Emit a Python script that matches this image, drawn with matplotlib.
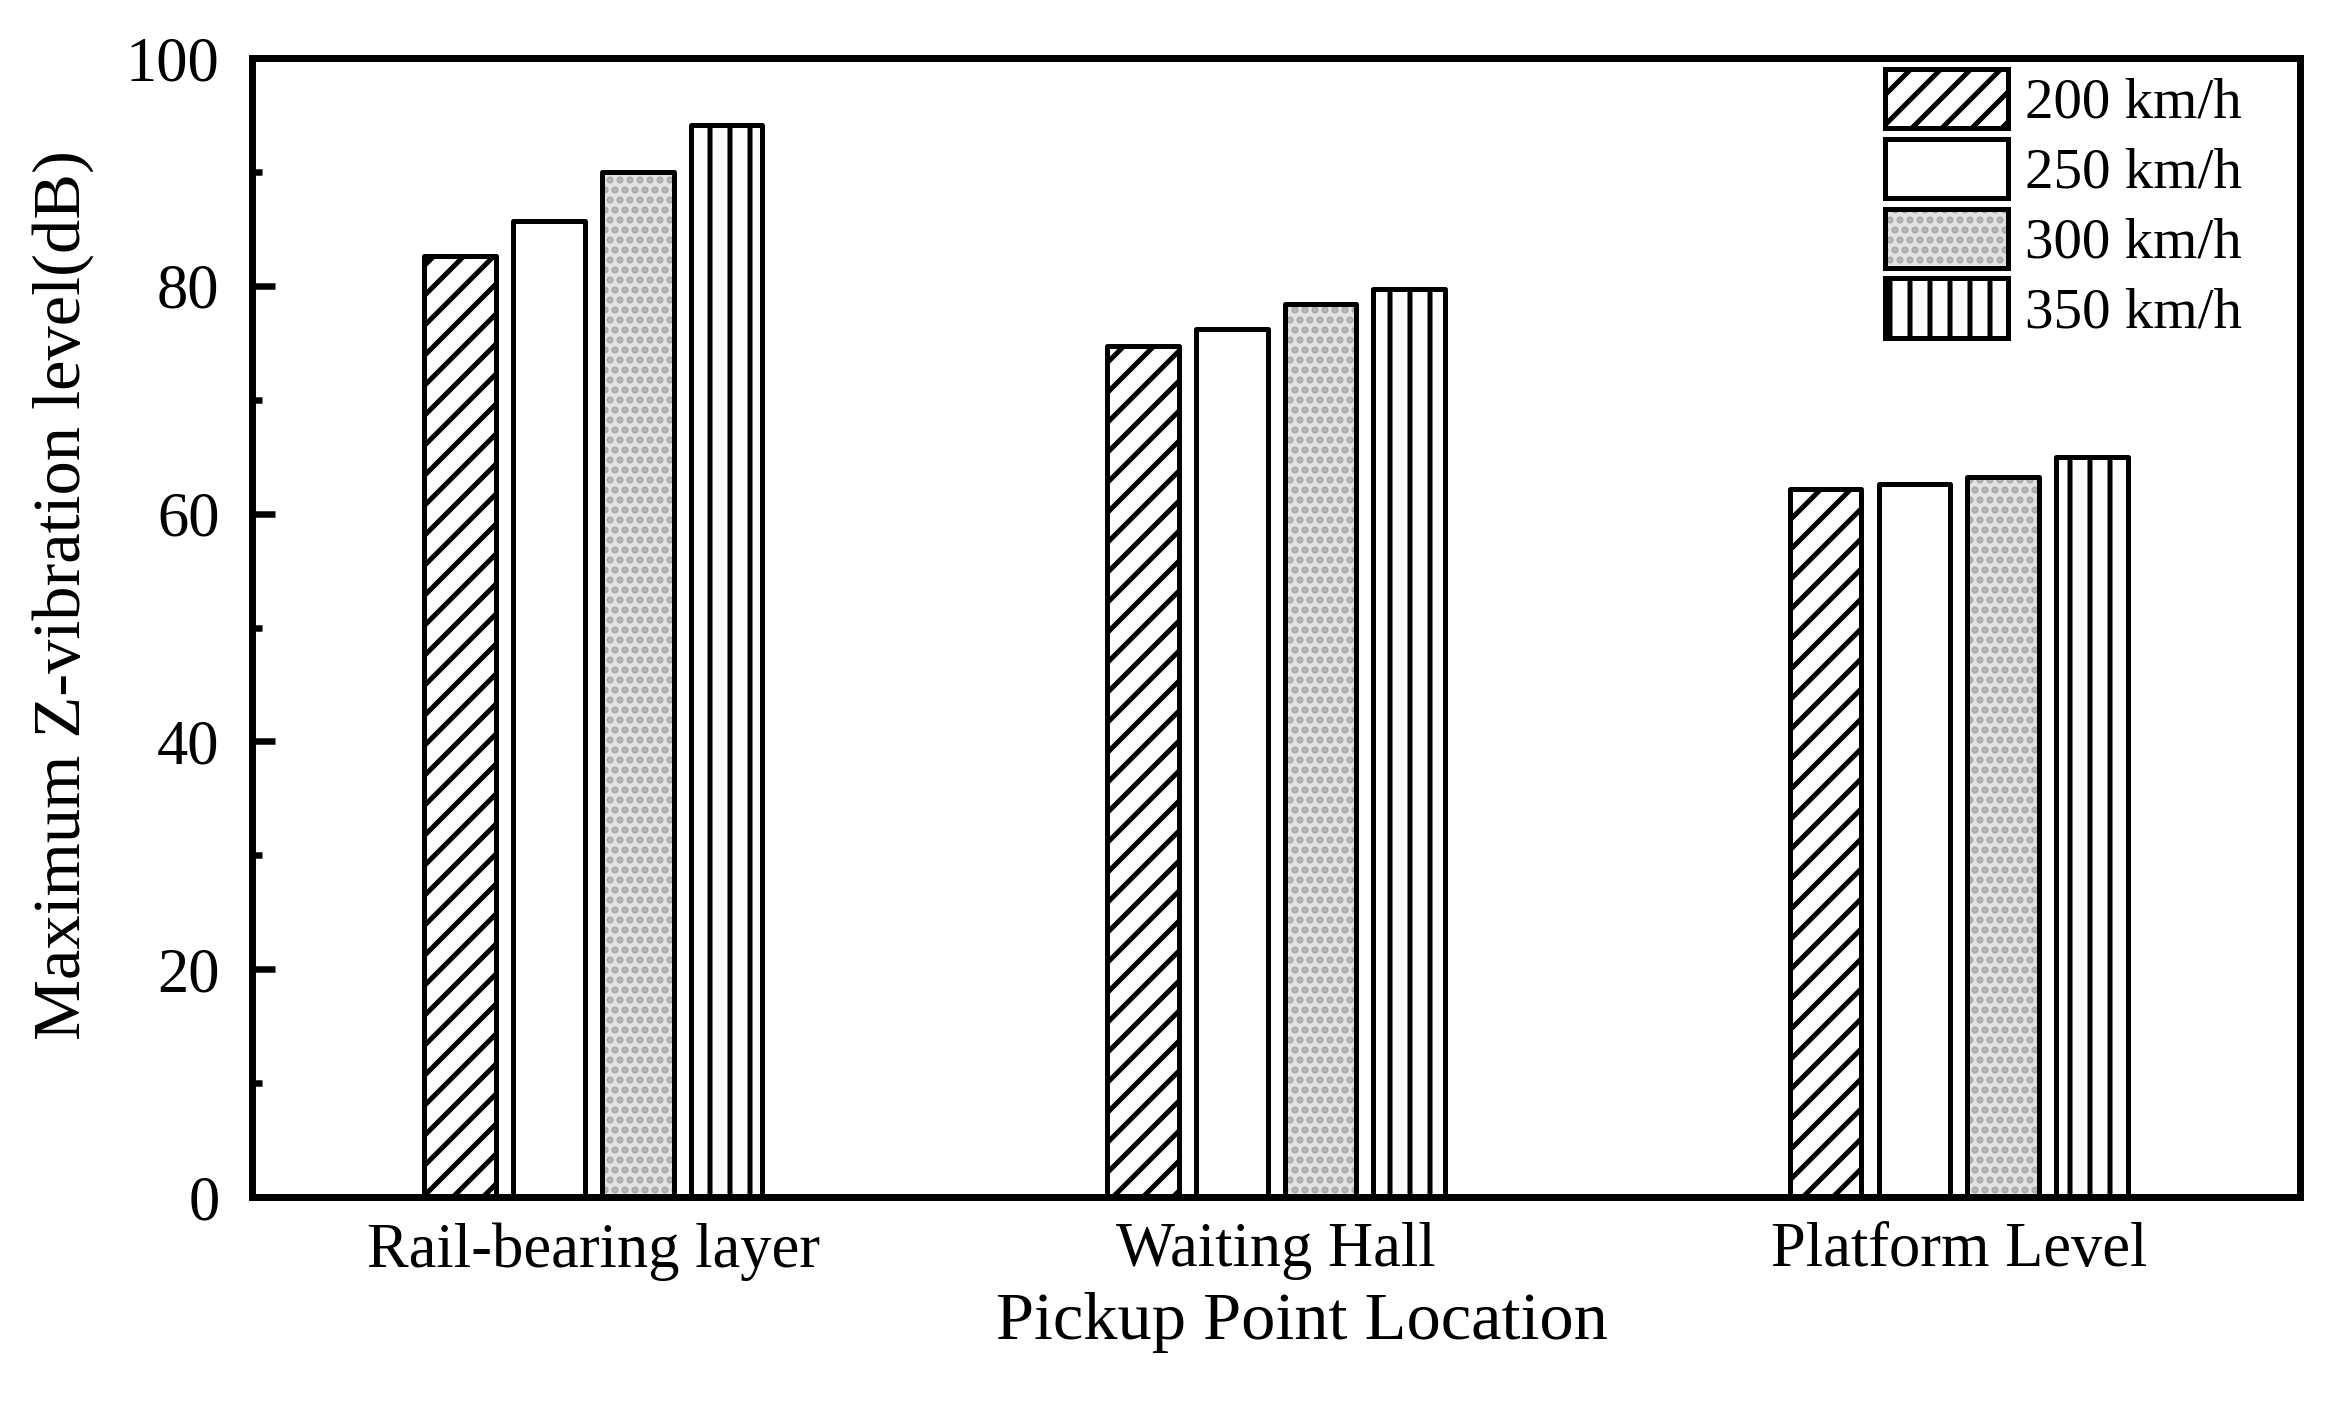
import numpy as np
import matplotlib
matplotlib.use('Agg')
import matplotlib.pyplot as plt

plt.rcParams['font.family'] = ['Liberation Serif', 'DejaVu Serif']
plt.rcParams['hatch.linewidth'] = 1.0

# data
locations = ['Rail-bearing layer', 'Waiting Hall', 'Platform Level']
speeds = ['200 km/h', '250 km/h', '300 km/h', '350 km/h']
v200 = [82.6, 74.7, 62.2]
v250 = [85.7, 76.2, 62.6]
v300 = [90.0, 78.4, 63.2]
v350 = [94.1, 79.7, 65.0]

dpi = 360
fig = plt.figure(figsize=(2333 / dpi, 1402 / dpi), dpi=dpi)
ax = fig.add_axes([0.108, 0.1462, 0.8779, 0.8124])

x = np.arange(len(locations))
width = 0.105
step = 0.13
lw = 1.0

b1 = ax.bar(x - 1.5 * step, v200, width, facecolor='white', edgecolor='black',
            hatch='////', linewidth=lw, joinstyle='round')
b2 = ax.bar(x - 0.5 * step, v250, width, facecolor='white', edgecolor='black',
            linewidth=lw, joinstyle='round')
# stippled grey: fill layer with grey dots, then black outline on top
b3f = ax.bar(x + 0.5 * step, v300, width, facecolor='#e2e2e2', edgecolor='#a8a8a8',
             hatch='......', linewidth=0)
b3e = ax.bar(x + 0.5 * step, v300, width, fill=False, edgecolor='black',
             linewidth=lw, joinstyle='round')
b4 = ax.bar(x + 1.5 * step, v350, width, facecolor='white', edgecolor='black',
            hatch='|||', linewidth=lw, joinstyle='round')

ax.set_xlim(-0.5, 2.5)
ax.set_ylim(0, 100)
ax.set_xticks(x)
ax.set_xticklabels(locations, fontsize=12.5)
ax.set_yticks(np.arange(0, 101, 20))
ax.set_yticks(np.arange(10, 100, 20), minor=True)
ax.tick_params(axis='y', which='major', direction='in', length=4.5, width=1.3,
               labelsize=12.5, pad=6.5)
ax.tick_params(axis='y', which='minor', direction='in', length=2, width=1.3)
ax.tick_params(axis='x', which='both', length=0, pad=5)
for s in ax.spines.values():
    s.set_linewidth(1.4)

ax.set_xlabel('Pickup Point Location', fontsize=13.7)
ax.xaxis.set_label_coords(0.5127, -0.083)
ax.set_ylabel('Maximum Z-vibration level(dB)', fontsize=13.7)
ax.yaxis.set_label_coords(-0.0773, 0.5285)

ax.legend([b1, b2, (b3f, b3e), b4], speeds, loc='upper left',
          bbox_to_anchor=(0.808, 0.951), bbox_transform=fig.transFigure,
          frameon=False, fontsize=11.4, handlelength=2.15, handleheight=1.22,
          handletextpad=0.3, labelspacing=0.16, borderpad=0, borderaxespad=0)

fig.savefig('out.png', dpi=dpi)
